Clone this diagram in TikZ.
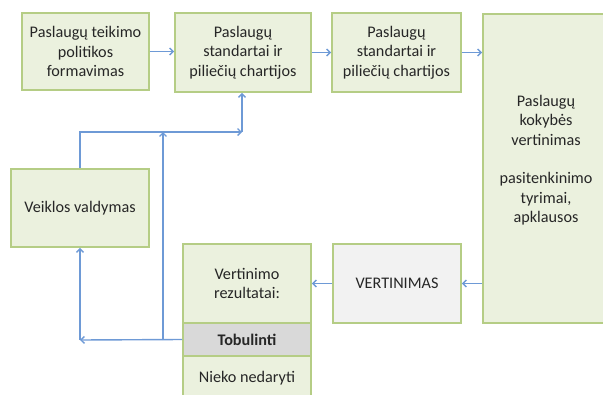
\documentclass[tikz,border=0pt]{standalone}
\usepackage{fontspec}
\setmainfont{Carlito}
\usetikzlibrary{arrows.meta}
\definecolor{boxfill}{HTML}{EBF1DE}
\definecolor{boxline}{HTML}{B5CD85}
\definecolor{arr}{HTML}{6E9AD6}
\definecolor{greyfill}{HTML}{F2F2F2}
\definecolor{darkfill}{HTML}{D9D9D9}
\definecolor{txt}{HTML}{262626}
\begin{document}
\begin{tikzpicture}[x=1pt,y=-1pt,
  font=\fontsize{16.2}{19.5}\selectfont,
  box/.style={draw=boxline, line width=1.8pt, fill=boxfill, align=center, text=txt, inner sep=2pt},
  lbl/.style={align=center, text=txt, inner sep=0pt},
  conn/.style={draw=arr, line width=1.4pt, -{Straight Barb[length=3.5pt,width=7pt]}}]
\useasboundingbox (0,0) rectangle (603,394);
\begin{scope}
\clip (0,0) rectangle (603,394);
\node[box, minimum width=127pt, minimum height=77pt] (b1) at (85.5,51.5) {Paslaugų teikimo\\politikos\\formavimas};
\node[box, minimum width=136pt, minimum height=79pt] (b2) at (243,52.5) {Paslaugų\\standartai ir\\piliečių chartijos};
\node[box, minimum width=129pt, minimum height=79pt] (b3) at (396.5,52.5) {Paslaugų\\standartai ir\\piliečių chartijos};
\node[box, minimum width=122pt, minimum height=309pt] (b4) at (544,168.5) {};
\node[lbl] (b4t) at (546,160) {Paslaugų\\kokybės\\vertinimas\\[19pt]pasitenkinimo\\tyrimai,\\apklausos};
\node[box, minimum width=138pt, minimum height=78pt] (veik) at (80,208) {Veiklos valdymas};
\node[box, minimum width=128pt, minimum height=79pt, fill=greyfill] (vert) at (397,283.5) {VERTINIMAS};
\node[box, minimum width=128pt, minimum height=79pt] (res) at (247,283.5) {Vertinimo\\rezultatai:};
\node[box, minimum width=128pt, minimum height=44pt] (niek) at (247,378) {Nieko nedaryti};
\node[box, minimum width=128pt, minimum height=33pt, fill=darkfill, font=\fontsize{16.2}{19.5}\selectfont\bfseries] (tob) at (247,339.5) {Tobulinti};
\end{scope}
\coordinate (c1) at (80,340);
\coordinate (c2) at (163,340);
\coordinate (c3) at (163,132);
\coordinate (c4) at (242,132);
\draw[conn] (b1.east) -- (b2.west |- b1.east);
\draw[conn] (b2.east) -- (b3.west |- b2.east);
\draw[conn] (b3.east) -- (b4.west |- b3.east);
\draw[conn] (b4.west |- vert.east) -- (vert.east);
\draw[conn] (vert.west) -- (res.east);
\draw[conn] (tob.west) -- (c1);
\draw[conn] (c1) -- (veik.south);
\draw[conn] (c2) -- (c3);
\draw[conn] (veik.north) |- (c4);
\draw[conn] (c4) -- (b2.south -| c4);
\end{tikzpicture}
\end{document}
